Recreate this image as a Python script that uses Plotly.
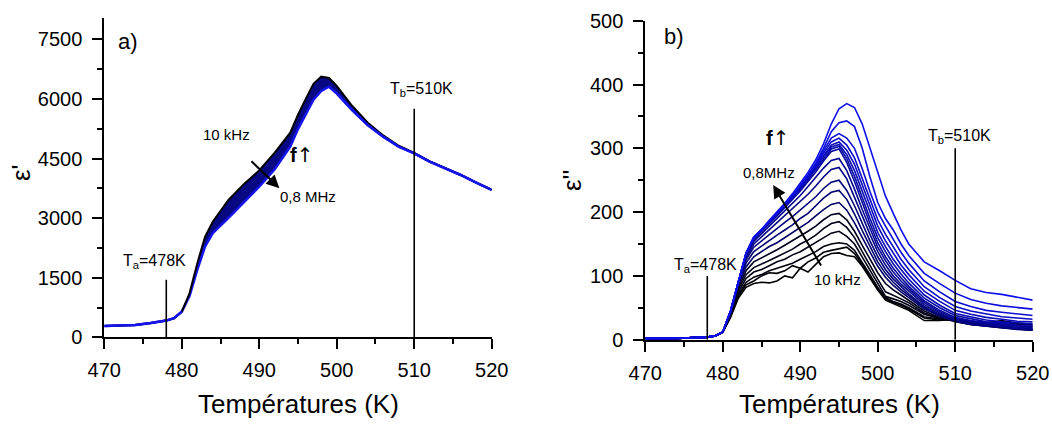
import plotly.graph_objects as go

# ---------------- Data: panel a) real permittivity eps' ----------------
T_a = [470, 472, 474, 476, 478, 479, 480, 481, 482, 483, 484, 486, 488, 490, 492,
       494, 495, 496, 497, 498, 499, 500, 502, 504, 506, 508, 510, 512, 514, 516, 518, 520]
eps1_10kHz = [285, 295, 310, 360, 420, 480, 645, 1107, 1860, 2530, 2910, 3450, 3850, 4200, 4650,
              5150, 5600, 6000, 6380, 6560, 6530, 6325, 5820, 5400, 5080, 4820, 4640, 4425, 4255, 4090, 3895, 3712]
eps1_08MHz = [285, 295, 310, 360, 420, 480, 645, 1040, 1695, 2280, 2620, 3000, 3400, 3790, 4230,
              4800, 5240, 5620, 5980, 6200, 6310, 6140, 5720, 5340, 5050, 4800, 4630, 4420, 4250, 4085, 3890, 3710]

# ---------------- Data: panel b) imaginary permittivity eps'' ----------------
T_b = [470, 474, 478, 479, 480, 481, 482, 483, 484, 485, 486, 487, 488, 489, 490, 491, 492, 493, 494,
       495, 496, 497, 498, 499, 500, 501, 502, 503, 504, 506, 508, 510, 512, 514, 516, 518, 520]

eps2 = [
    # 10 kHz
    [2, 2, 4, 6, 12, 35, 65, 82, 88, 90, 89, 92, 100, 97, 112, 106, 118, 130, 135,
     136, 132, 130, 115, 96, 78, 62, 57, 52, 46, 30, 30, 32, 28, 26, 30, 26, 24],
    [2, 2, 4, 6, 12, 36, 68, 86, 92, 100, 105, 104, 108, 116, 112, 122, 128, 137, 140,
     143, 145, 135, 118, 98, 80, 64, 58, 54, 48, 34, 31, 31, 29, 27, 28, 24, 22],
    [2, 2, 4, 6, 12, 37, 70, 90, 98, 102, 108, 112, 116, 120, 126, 132, 138, 146, 150,
     152, 150, 140, 122, 102, 82, 66, 60, 56, 50, 36, 32, 30, 28, 27, 26, 23, 20],
    [2, 2, 4, 6, 12, 38, 74, 96, 106, 110, 116, 122, 126, 133, 138, 145, 152, 160, 167,
     170, 162, 150, 130, 108, 88, 68, 64, 60, 54, 40, 33, 30, 28, 25, 24, 22, 18],
    [2, 2, 4, 6, 12, 39, 78, 102, 113, 118, 124, 130, 136, 142, 150, 156, 164, 174, 182,
     185, 176, 160, 138, 116, 95, 75, 70, 64, 58, 42, 34, 29, 25, 24, 22, 19, 16],
    [2, 2, 4, 6, 12, 40, 82, 108, 122, 128, 135, 141, 148, 155, 162, 170, 178, 188, 196,
     198, 188, 170, 148, 126, 105, 88, 78, 70, 62, 45, 35, 28, 24, 22, 20, 17, 15],
    [2, 2, 4, 6, 12, 41, 85, 114, 130, 138, 146, 152, 160, 168, 176, 184, 194, 204, 212,
     215, 203, 183, 160, 137, 115, 98, 85, 75, 66, 48, 37, 29, 24, 21, 19, 16, 15],
    [2, 2, 4, 6, 12, 42, 87, 120, 138, 147, 156, 164, 172, 180, 190, 198, 210, 222, 231,
     234, 220, 197, 171, 146, 122, 104, 90, 79, 69, 50, 38, 29, 24, 21, 19, 17, 15],
    [2, 2, 4, 6, 12, 43, 88, 125, 145, 155, 165, 174, 184, 193, 203, 213, 224, 237, 247,
     250, 234, 210, 182, 155, 130, 110, 95, 83, 72, 52, 40, 30, 25, 22, 19, 17, 16],
    [2, 2, 4, 6, 12, 44, 89, 128, 150, 161, 172, 183, 194, 205, 216, 228, 241, 255, 267,
     270, 252, 224, 194, 165, 138, 117, 100, 87, 76, 55, 42, 31, 26, 23, 20, 18, 17],
    [2, 2, 4, 6, 12, 44, 90, 131, 154, 166, 178, 190, 202, 214, 226, 240, 254, 269, 281,
     284, 265, 236, 204, 173, 145, 124, 106, 92, 80, 58, 44, 33, 28, 24, 22, 19, 18],
    [2, 2, 4, 6, 12, 45, 90, 133, 157, 169, 182, 194, 207, 220, 233, 248, 263, 280, 295,
     299, 278, 248, 214, 182, 152, 130, 112, 97, 84, 61, 46, 35, 30, 26, 24, 21, 20],
    [2, 2, 4, 6, 12, 45, 90, 134, 158, 170, 183, 196, 209, 222, 236, 251, 267, 284, 299,
     303, 284, 256, 222, 190, 160, 138, 119, 103, 89, 65, 50, 38, 33, 28, 26, 23, 22],
    [2, 2, 4, 6, 12, 45, 90, 135, 159, 171, 184, 197, 210, 223, 238, 253, 269, 287, 302,
     306, 290, 265, 232, 198, 168, 146, 126, 110, 95, 70, 54, 41, 36, 31, 28, 26, 25],
    [2, 2, 4, 6, 12, 45, 90, 135, 160, 171, 184, 197, 211, 224, 239, 254, 271, 289, 305,
     310, 297, 275, 242, 208, 178, 155, 135, 117, 102, 76, 60, 46, 40, 35, 32, 29, 28],
    [2, 2, 4, 6, 12, 45, 90, 135, 160, 172, 185, 198, 211, 225, 240, 256, 273, 292, 310,
     316, 305, 285, 252, 218, 188, 165, 145, 126, 110, 83, 66, 52, 45, 40, 36, 34, 32],
    [2, 2, 4, 6, 12, 45, 90, 135, 160, 172, 185, 198, 212, 226, 241, 257, 275, 296, 316,
     323, 316, 300, 268, 232, 200, 178, 158, 137, 120, 92, 75, 60, 52, 46, 43, 40, 38],
    [2, 2, 4, 6, 12, 45, 90, 136, 161, 172, 186, 199, 213, 227, 242, 258, 277, 300, 326,
     340, 343, 334, 300, 255, 215, 190, 172, 150, 132, 104, 88, 73, 63, 57, 53, 50, 48],
    # 0.8 MHz
    [2, 2, 4, 6, 12, 45, 90, 136, 161, 173, 187, 200, 214, 229, 245, 262, 282, 307, 338,
     362, 370, 364, 338, 300, 265, 225, 198, 172, 150, 122, 108, 93, 80, 74, 71, 66, 62],
]

# Markers of the transition temperatures
T_marks = [478, 510]
mark_top_a = [1450, 5750]
mark_top_b = [100, 300]

# ---------------- Figure ----------------
FONT = "Arial, 'Liberation Sans', sans-serif"
W, H = 1052, 424
fig = go.Figure()

# panel a: band between 10 kHz and 0.8 MHz curves
fig.add_trace(go.Scatter(x=T_a, y=eps1_08MHz, mode="lines",
                         line=dict(color="rgb(20,20,235)", width=2.5),
                         xaxis="x", yaxis="y", showlegend=False))
fig.add_trace(go.Scatter(x=T_a, y=eps1_10kHz, mode="lines", fill="tonexty",
                         fillcolor="rgb(8,8,130)",
                         line=dict(color="black", width=2),
                         xaxis="x", yaxis="y", showlegend=False))
fig.add_trace(go.Scatter(x=T_a[:7], y=eps1_08MHz[:7], mode="lines",
                         line=dict(color="rgb(20,20,235)", width=2.5),
                         xaxis="x", yaxis="y", showlegend=False))
fig.add_trace(go.Scatter(x=T_a[20:], y=eps1_08MHz[20:], mode="lines",
                         line=dict(color="rgb(20,20,235)", width=2.5),
                         xaxis="x", yaxis="y", showlegend=False))

# panel b: individual frequency curves, black -> blue
n = len(eps2)
for i, ys in enumerate(eps2):
    if i <= 5:
        col = "rgb(0,0,%d)" % (i * 6)
    else:
        tt = (i - 5) / (n - 6)
        col = "rgb(%d,%d,%d)" % (int(15 * tt), int(15 * tt), int(90 + 145 * tt))
    fig.add_trace(go.Scatter(x=T_b, y=ys, mode="lines",
                             line=dict(color=col, width=1.6),
                             xaxis="x2", yaxis="y2", showlegend=False))

# transition temperature markers
for tm, h in zip(T_marks, mark_top_a):
    fig.add_trace(go.Scatter(x=[tm, tm], y=[0, h], mode="lines",
                             line=dict(color="black", width=1.6),
                             xaxis="x", yaxis="y", showlegend=False))
for tm, h in zip(T_marks, mark_top_b):
    fig.add_trace(go.Scatter(x=[tm, tm], y=[0, h], mode="lines",
                             line=dict(color="black", width=1.6),
                             xaxis="x2", yaxis="y2", showlegend=False))

axis_common = dict(showline=True, linecolor="black", linewidth=2, showgrid=False,
                   zeroline=False, ticks="outside", ticklen=10, tickwidth=2,
                   tickcolor="black", tickfont=dict(family=FONT, size=20, color="black"),
                   mirror=False, automargin=False, ticklabeloverflow="allow")

def px_x(X):
    return X / W

PLOT_BOTTOM = 340.0       # pixel of the plot-area bottom
PLOT_TOP = 18.0
PLOT_H = PLOT_BOTTOM - PLOT_TOP
xa = dict(axis_common, range=[470, 520], tickvals=[470, 480, 490, 500, 510, 520],
          minor=dict(ticks="outside", dtick=5, ticklen=5, tickwidth=2, tickcolor="black"),
          ticklabelstandoff=4)
fig.update_layout(
    width=W, height=H, autosize=False,
    margin=dict(l=0, r=0, t=PLOT_TOP, b=H - PLOT_BOTTOM, pad=0, autoexpand=False),
    paper_bgcolor="white", plot_bgcolor="white",
    xaxis=dict(xa, domain=[px_x(104.3), px_x(491.7)], anchor="y"),
    xaxis2=dict(xa, domain=[px_x(645.3), px_x(1032.7)], anchor="y2"),
    yaxis=dict(axis_common, range=[0, 8036], domain=[2.7 / PLOT_H, 1.0], anchor="x",
               tickvals=[0, 1500, 3000, 4500, 6000, 7500],
               minor=dict(ticks="outside", dtick=750, ticklen=5, tickwidth=2, tickcolor="black"),
               ticklabelstandoff=6),
    yaxis2=dict(axis_common, range=[0, 500], domain=[0.3 / PLOT_H, (PLOT_BOTTOM - 20.7) / PLOT_H],
                anchor="x2", tickvals=[0, 100, 200, 300, 400, 500],
                minor=dict(ticks="outside", dtick=50, ticklen=5, tickwidth=2, tickcolor="black"),
                ticklabelstandoff=6),
)

ann = []
def txt(x, y, s, size, xr="x", yr="y", **kw):
    ann.append(dict(x=x, y=y, xref=xr, yref=yr, text=s, showarrow=False,
                    font=dict(family=FONT, size=size, color="black"),
                    xanchor="center", yanchor="middle", **kw))

def py(Y):
    return (PLOT_BOTTOM - Y) / PLOT_H

ARROW = "<b>f</b><span style='font-family:DejaVu Sans;font-weight:normal'>↑</span>"
# panel a texts
txt(473.1, 7440, "a)", 22)
txt(485.8, 5092, "10 kHz", 15)
txt(496.3, 3556, "0,8 MHz", 15)
txt(495.5, 4588, ARROW, 20)
txt(476.5, 1903, "T<sub>a</sub>=478K", 16)
txt(511.0, 6242, "T<sub>b</sub>=510K", 16)
# panel b texts
txt(473.7, 475.8, "b)", 22, "x2", "y2")
txt(487.0, 315.7, ARROW, 20, "x2", "y2")
txt(486.0, 262, "0,8MHz", 15, "x2", "y2")
txt(494.8, 93.6, "10 kHz", 15, "x2", "y2")
txt(477.8, 117, "T<sub>a</sub>=478K", 16, "x2", "y2")
txt(510.5, 319, "T<sub>b</sub>=510K", 16, "x2", "y2")

# arrows
ann.append(dict(x=492.6, y=3753, ax=488.8, ay=4466, xref="x", yref="y", axref="x", ayref="y",
                text="", showarrow=True, arrowhead=2, arrowsize=1.3, arrowwidth=2, arrowcolor="black"))
ann.append(dict(x=486.5, y=242.5, ax=492.8, ay=114, xref="x2", yref="y2", axref="x2", ayref="y2",
                text="", showarrow=True, arrowhead=2, arrowsize=1.3, arrowwidth=2, arrowcolor="black"))

# axis titles
txt(px_x(298), py(404), "Températures (K)", 26, "paper", "paper")
txt(px_x(839), py(404), "Températures (K)", 26, "paper", "paper")
txt(px_x(21), py(173), "ε'", 26, "paper", "paper", textangle=-90)
txt(px_x(572), py(180), "ε''", 26, "paper", "paper", textangle=-90)

fig.update_layout(annotations=ann)
fig.write_html("out.html", config={"displayModeBar": False},
               post_script="document.body.style.margin='0px';document.body.style.overflow='hidden';")
